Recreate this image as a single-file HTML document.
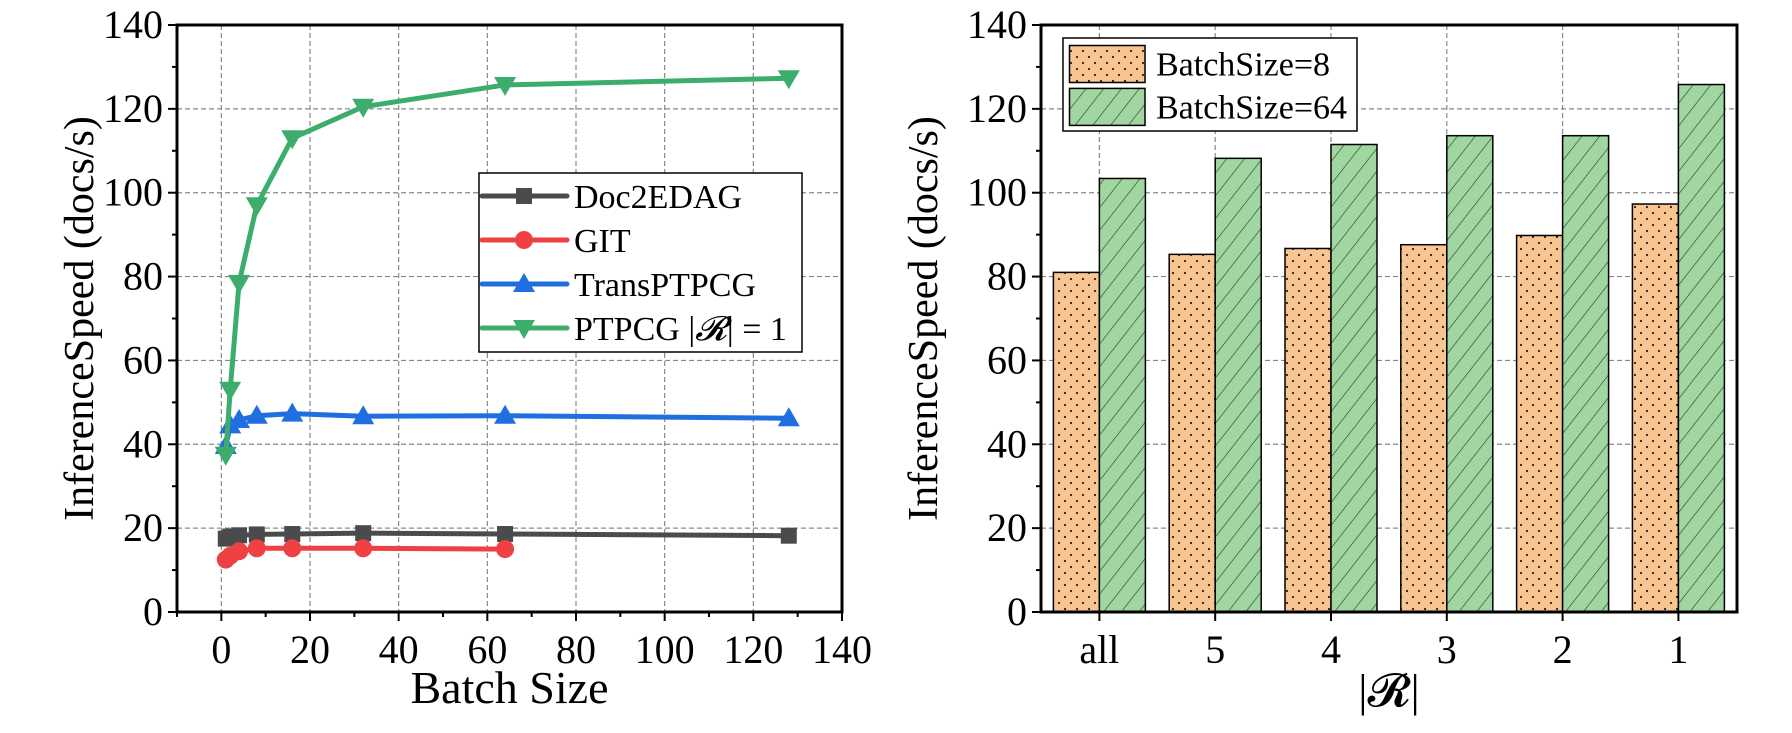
<!DOCTYPE html>
<html><head><meta charset="utf-8"><style>
body{margin:0;background:#fff}
svg, svg text{font-family:"Liberation Serif","DejaVu Serif",serif}
</style></head><body>
<svg id="c" width="1792" height="728" viewBox="0 0 1792 728" font-family="Liberation Serif, serif">
<defs>
<pattern id="dots" width="12" height="12" patternUnits="userSpaceOnUse">
<rect width="12" height="12" fill="#f9c591"/><circle cx="3" cy="3" r="1.1" fill="#222"/><circle cx="9" cy="9" r="1.1" fill="#222"/></pattern>
<pattern id="hatch" width="14" height="14" patternUnits="userSpaceOnUse" patternTransform="rotate(-52)">
<rect width="14" height="14" fill="#a0d6a0"/><line x1="0" y1="0" x2="14" y2="0" stroke="#333" stroke-width="1.2"/></pattern>
</defs>
<g id="left"></g>
<g id="right"></g>
</svg>
<script>
const lineX = [1,2,4,8,16,32,64,128];
const doc2edag = [17.5,18.0,18.3,18.5,18.6,18.8,18.6,18.2];
const gitX = [1,2,4,8,16,32,64];
const git = [12.5,13.4,14.5,15.2,15.2,15.2,15.0];
const trans = [39.6,44.5,45.8,46.8,47.3,46.7,46.8,46.2];
const ptpcg = [37.5,53.0,78.5,97.0,113.0,120.5,125.7,127.3];
const xTicks = [0,20,40,60,80,100,120,140];
const yTicks = [0,20,40,60,80,100,120,140];
const cats = ["all","5","4","3","2","1"];
const bs8 = [81.0,85.3,86.7,87.6,89.8,97.3];
const bs64 = [103.4,108.2,111.5,113.6,113.6,125.8];

const NS="http://www.w3.org/2000/svg";
const FF="Liberation Serif, DejaVu Serif, serif";
function mk(parent,tag,attrs,text){const e=document.createElementNS(NS,tag);for(const k in attrs)e.setAttribute(k,attrs[k]);if(tag==='text')e.setAttribute('font-family',FF);if(text!==undefined)e.textContent=text;parent.appendChild(e);return e;}

// LEFT
const L=document.getElementById('left');
const lx0=177,lx1=842,yTop=25,yBot=612;
const lxs=v=>lx0+(v+10)/150*(lx1-lx0);
const ys=v=>yBot-v/140*(yBot-yTop);
yTicks.forEach(t=>{if(t>0&&t<140){const g=mk(L,'line',{x1:lx0,x2:lx1,y1:ys(t),y2:ys(t),stroke:'#888','stroke-width':1.2,'stroke-dasharray':'5,3'});}});
xTicks.forEach(t=>{if(t<140){const g=mk(L,'line',{x1:lxs(t),x2:lxs(t),y1:yTop,y2:yBot,stroke:'#888','stroke-width':1.2,'stroke-dasharray':'5,3'});}});
const series=[["doc2edag",lineX,doc2edag,"#4b4b4b","sq"],["git",gitX,git,"#ef4044","ci"],["transptpcg",lineX,trans,"#1f6fe0","up"],["ptpcg",lineX,ptpcg,"#3cad6c","dn"]];
function marker(p,type,x,y,col){
 if(type==="sq")return mk(p,'rect',{x:x-8,y:y-8,width:16,height:16,fill:col});
 if(type==="ci")return mk(p,'circle',{cx:x,cy:y,r:9,fill:col});
 if(type==="up")return mk(p,'polygon',{points:`${x},${y-11} ${x-11},${y+8} ${x+11},${y+8}`,fill:col});
 return mk(p,'polygon',{points:`${x},${y+11} ${x-11},${y-8} ${x+11},${y-8}`,fill:col});
}
series.forEach(([n,xs,vs,col,mt])=>{
 const pts=xs.map((x,i)=>lxs(x)+','+ys(vs[i])).join(' ');
 const pl=mk(L,'polyline',{points:pts,fill:'none',stroke:col,'stroke-width':5,'stroke-linejoin':'round'});
 
 
 xs.forEach((x,i)=>{const m=marker(L,mt,lxs(x),ys(vs[i]),col);
 
 });
});
mk(L,'rect',{x:lx0,y:yTop,width:lx1-lx0,height:yBot-yTop,fill:'none',stroke:'#000','stroke-width':3});
for(let v=0;v<=140;v+=10){mk(L,'line',{x1:lx0-(v%20?5:9),x2:lx0,y1:ys(v),y2:ys(v),stroke:'#000','stroke-width':2});}
for(let v=-10;v<=140;v+=10){mk(L,'line',{x1:lxs(v),x2:lxs(v),y1:yBot,y2:yBot+(v%20?5:9),stroke:'#000','stroke-width':2});}
yTicks.forEach(t=>{const e=mk(L,'text',{x:lx0-14,y:ys(t)+13,'font-size':40,'text-anchor':'end'},t);});
xTicks.forEach(t=>{const e=mk(L,'text',{x:lxs(t),y:663,'font-size':40,'text-anchor':'middle'},t);});
let t1=mk(L,'text',{x:(lx0+lx1)/2,y:703,'font-size':46,'text-anchor':'middle'},'Batch Size');
let t2=mk(L,'text',{x:0,y:0,'font-size':42,'text-anchor':'middle',transform:`translate(93,${(yTop+yBot)/2}) rotate(-90)`},'InferenceSpeed (docs/s)');
const lg=mk(L,'g',{});
mk(lg,'rect',{x:479,y:173,width:323,height:179,fill:'#fff',stroke:'#000','stroke-width':1.5});
const names=["Doc2EDAG","GIT","TransPTPCG","PTPCG"];
series.forEach(([n,xs,vs,col,mt],i)=>{const y=196+i*44;
 const g=mk(lg,'g',{});
 mk(g,'line',{x1:482,x2:567,y1:y,y2:y,stroke:col,'stroke-width':5,'stroke-linecap':'round'});
 marker(g,mt,524,y,col);
 const t=mk(g,'text',{x:574,y:y+12,'font-size':34},names[i]);
 if(i===3){mk(t,'tspan',{},' |');mk(t,'tspan',{'font-style':'italic'},'𝓡');mk(t,'tspan',{},'| = 1');}
});
// RIGHT
const R=document.getElementById('right');
const rx0=1041,rx1=1737,cw=115.8,c0=1099.4,bw=46;
const cx=i=>c0+i*cw;
yTicks.forEach(t=>{if(t>0&&t<140){const g=mk(R,'line',{x1:rx0,x2:rx1,y1:ys(t),y2:ys(t),stroke:'#888','stroke-width':1.2,'stroke-dasharray':'5,3'});}});
cats.forEach((c,i)=>{const g=mk(R,'line',{x1:cx(i),x2:cx(i),y1:yTop,y2:yBot,stroke:'#888','stroke-width':1.2,'stroke-dasharray':'5,3'});});
cats.forEach((c,i)=>{
 const b1=mk(R,'rect',{x:cx(i)-bw,y:ys(bs8[i]),width:bw,height:yBot-ys(bs8[i]),fill:'url(#dots)',stroke:'#000','stroke-width':1.5});
 
 
 const b2=mk(R,'rect',{x:cx(i),y:ys(bs64[i]),width:bw,height:yBot-ys(bs64[i]),fill:'url(#hatch)',stroke:'#000','stroke-width':1.5});
 
 
 mk(R,'line',{x1:cx(i),x2:cx(i),y1:yBot,y2:yBot+9,stroke:'#000','stroke-width':2});
 const t=mk(R,'text',{x:cx(i),y:663,'font-size':40,'text-anchor':'middle'},c);
 
 
});
mk(R,'rect',{x:rx0,y:yTop,width:rx1-rx0,height:yBot-yTop,fill:'none',stroke:'#000','stroke-width':3});
for(let v=0;v<=140;v+=10){mk(R,'line',{x1:rx0-(v%20?5:9),x2:rx0,y1:ys(v),y2:ys(v),stroke:'#000','stroke-width':2});}
yTicks.forEach(t=>{const e=mk(R,'text',{x:rx0-14,y:ys(t)+13,'font-size':40,'text-anchor':'end'},t);});
let t3=mk(R,'text',{x:(rx0+rx1)/2,y:706,'font-size':46,'text-anchor':'middle'},'|𝓡|');
let t4=mk(R,'text',{x:0,y:0,'font-size':42,'text-anchor':'middle',transform:`translate(937,${(yTop+yBot)/2}) rotate(-90)`},'InferenceSpeed (docs/s)');
const rg=mk(R,'g',{});
mk(rg,'rect',{x:1063,y:38,width:294,height:93,fill:'#fff',stroke:'#000','stroke-width':1.5});
[["url(#dots)","BatchSize=8",45.5],["url(#hatch)","BatchSize=64",88.4]].forEach(([f,l,y])=>{
 const g=mk(rg,'g',{});
 mk(g,'rect',{x:1069.5,y:y,width:75.5,height:37,fill:f,stroke:'#000','stroke-width':1.5});
 mk(g,'text',{x:1156,y:y+30,'font-size':34},l);
});
</script>
</body></html>
